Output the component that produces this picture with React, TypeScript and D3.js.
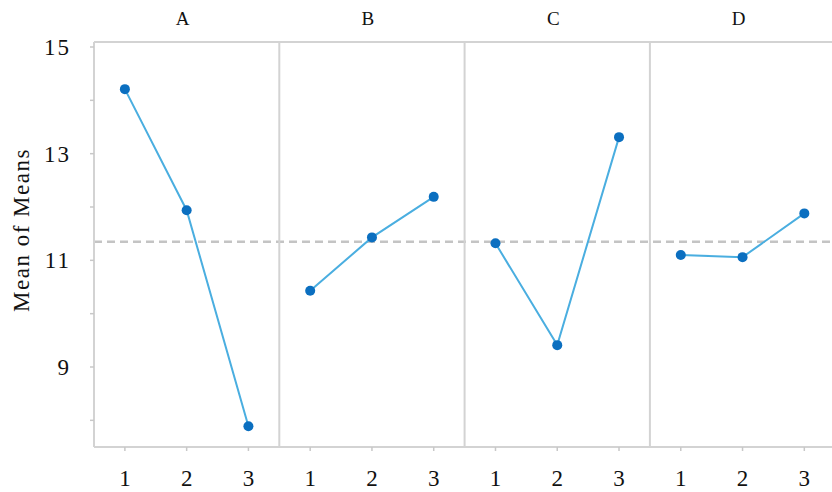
import React from "react";
import * as d3 from "d3";

const factors = ["A", "B", "C", "D"];
const levels = ["1", "2", "3"];
const meansA = [14.21, 11.94, 7.89];
const meansB = [10.43, 11.43, 12.19];
const meansC = [11.32, 9.41, 13.31];
const meansD = [11.1, 11.06, 11.88];
const seriesValues = [meansA, meansB, meansC, meansD];
const grandMean = 11.35;
const yTickLabels = [9, 11, 13, 15];
const yMinorTicks = [8, 9, 10, 11, 12, 13, 14, 15];

export default function App() {
  const W = 832, H = 492;
  const left = 94, top = 42, bottom = 447;
  const panelW = 185.3;
  const y = d3.scaleLinear().domain([15, 9]).range([47, 367]);
  const panelX = d3.scaleBand<string>().domain(factors).range([left, left + panelW * 4]).padding(0);
  const frame = "#d3d3d3";
  const line = d3.line<number>();

  return (
    <svg width={W} height={H} style={{ position: "absolute", left: 0, top: 0, background: "#fff", fontFamily: "Liberation Serif, Times New Roman, Times, serif" }}>
      {/* dashed grand mean */}
      <line x1={left} x2={left + panelW * 4} y1={y(grandMean)} y2={y(grandMean)}
        stroke="#c4c4c4" strokeWidth={2.5} strokeDasharray="8,5" />
      {/* frame */}
      <line x1={left} x2={W + 10} y1={top} y2={top} stroke={frame} strokeWidth={2} />
      <line x1={left} x2={W + 10} y1={bottom} y2={bottom} stroke={frame} strokeWidth={2} />
      <line x1={left} x2={left} y1={top} y2={bottom} stroke={frame} strokeWidth={2} />
      {factors.slice(1).map((f) => (
        <line key={f} x1={panelX(f)!} x2={panelX(f)!} y1={top} y2={bottom} stroke={frame} strokeWidth={2} />
      ))}
      {/* y ticks */}
      {yMinorTicks.map((t) => (
        <line key={t} x1={left - 4} x2={left} y1={y(t)} y2={y(t)} stroke="#c8c8c8" strokeWidth={1.5} />
      ))}
      {yTickLabels.map((t) => (
        <text key={t} x={71} y={y(t)} dy="0.35em" textAnchor="end" fontSize={23} letterSpacing={2} fill="#111">{t}</text>
      ))}
      <text transform={`translate(29,230) rotate(-90)`} textAnchor="middle"
        fontSize={23} letterSpacing={1.5} fill="#111">Mean of Means</text>
      {factors.map((f, i) => {
        const x0 = panelX(f)!;
        const x = d3.scalePoint<string>().domain(levels).range([x0, x0 + panelW]).padding(0.5);
        const vals = seriesValues[i];
        const pts: [number, number][] = vals.map((v, j) => [x(levels[j])!, y(v)]);
        return (
          <g key={f}>
            <text x={x0 + panelW / 2 - 4} y={25} textAnchor="middle" fontSize={19} fill="#111">{f}</text>
            {levels.map((l) => (
              <g key={l}>
                <line x1={x(l)!} x2={x(l)!} y1={bottom} y2={bottom + 4} stroke="#c8c8c8" strokeWidth={1.5} />
                <text x={x(l)!} y={486} textAnchor="middle" fontSize={23} fill="#111">{l}</text>
              </g>
            ))}
            <path d={line(pts)!} fill="none" stroke="#4aaee0" strokeWidth={2} />
            {pts.map((p, j) => (
              <circle key={j} cx={p[0]} cy={p[1]} r={5} fill="#0b6fc0" />
            ))}
          </g>
        );
      })}
    </svg>
  );
}
